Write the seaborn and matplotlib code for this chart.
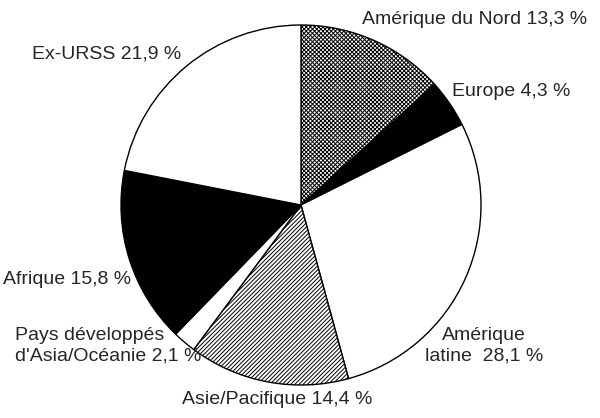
import numpy as np
import matplotlib
matplotlib.use("Agg")
import matplotlib.pyplot as plt
import seaborn as sns

regions = ["Amérique du Nord", "Europe", "Amérique latine", "Asie/Pacifique",
           "Pays développés d'Asia/Océanie", "Afrique", "Ex-URSS"]
shares = [13.3, 4.3, 28.1, 14.4, 2.1, 15.8, 21.9]
labels = ["Amérique du Nord 13,3 %", "Europe 4,3 %", "Amérique\nlatine  28,1 %",
          "Asie/Pacifique 14,4 %", "Pays développés\nd'Asia/Océanie 2,1 %",
          "Afrique 15,8 %", "Ex-URSS 21,9 %"]

sns.set_style("white")
plt.rcParams['font.family'] = ['Liberation Sans', 'DejaVu Sans']
plt.rcParams['hatch.linewidth'] = 0.7

fills = ["white", "black", "white", "white", "white", "black", "white"]
hatches = ["xxxxxxxx", None, None, "////////", None, None, None]

fig = plt.figure(figsize=(6, 4.18), dpi=100)
ax = fig.add_axes([0, 0, 1, 1])
R = 180.0
cx, cy = 301, 205
wedges, _ = ax.pie(shares, startangle=90, counterclock=False, colors=fills,
                   wedgeprops=dict(edgecolor="black", linewidth=1.0))
for w, h in zip(wedges, hatches):
    if h:
        w.set_hatch(h)

ax.set_xlim(-cx / R, (600 - cx) / R)
ax.set_ylim(-(418 - cy) / R, cy / R)
ax.set_aspect("equal")
ax.axis("off")

def px(x, y):
    return (x - cx) / R, (cy - y) / R

# label anchors in pixel coordinates of the reference
pos = [(362, 20, "left"), (452, 92, "left"), (484, 346, "center"),
       (277, 400, "center"), (15, 346, "left"), (3, 280, "left"),
       (32, 54, "left")]
for lab, (x, y, ha) in zip(labels, pos):
    tx, ty = px(x, y)
    ax.text(tx, ty, lab, ha=ha, va="center", multialignment=ha,
            fontsize=14, linespacing=1.3)

fig.savefig("out.png", dpi=100)
